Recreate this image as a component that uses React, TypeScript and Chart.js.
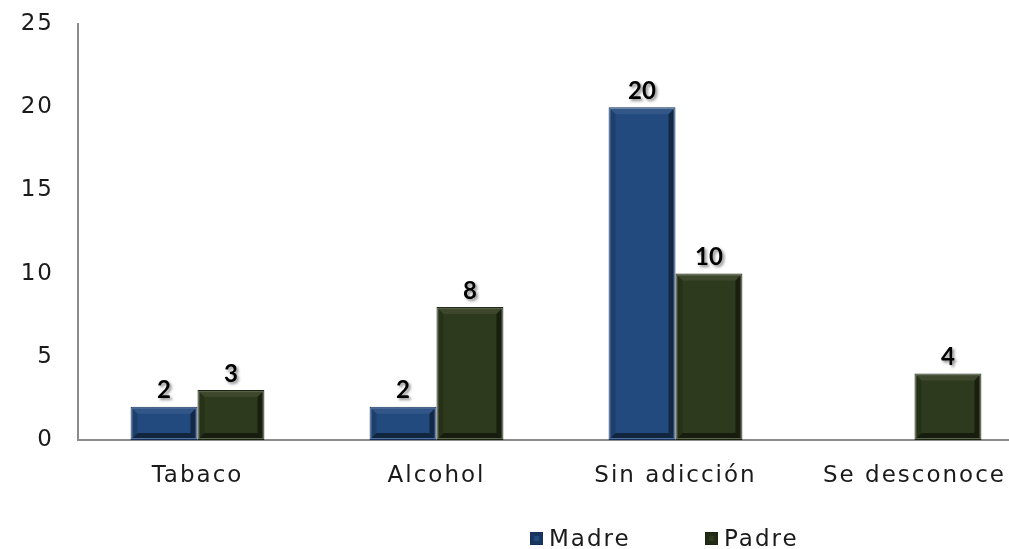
import React, { useEffect, useRef } from "react";
import { Chart, registerables } from "chart.js";

Chart.register(...registerables);

const categories = ["Tabaco", "Alcohol", "Sin adicción", "Se desconoce"];
const madreValues: (number | null)[] = [2, 2, 20, null];
const padreValues: (number | null)[] = [3, 8, 10, 4];
const seriesNames = ["Madre", "Padre"];
const seriesColors = ["#224a7e", "#2e3a1d"];
const seriesBorders = ["#14305a", "#1a2410"];
const yMax = 25;
const yStep = 5;

const FONT = "'DejaVu Sans', 'Open Sans', sans-serif";
const SPACING = "2px";

// Widens axis text slightly for a geometric look
const spacingPlugin = {
  id: "letterSpacing",
  beforeDraw(chart: any) {
    chart.ctx.letterSpacing = SPACING;
  },
  afterDraw(chart: any) {
    chart.ctx.letterSpacing = "0px";
  },
};

// Draws a bevelled frame inside each bar plus a bold shaded value label above it
const bevelPlugin = {
  id: "bevelBars",
  afterDatasetsDraw(chart: any) {
    const ctx = chart.ctx;
    chart.data.datasets.forEach((ds: any, di: number) => {
      const meta = chart.getDatasetMeta(di);
      meta.data.forEach((bar: any, i: number) => {
        const v = ds.data[i];
        if (v === null || v === undefined) return;
        const { x, y, base, width } = bar.getProps(["x", "y", "base", "width"], true);
        const l = x - width / 2;
        const r = x + width / 2;
        const t = y;
        const b = base;
        const h = b - t;
        const inset = Math.min(7, h / 3, width / 3);
        ctx.save();
        ctx.letterSpacing = "0px";
        // light outer rim
        ctx.strokeStyle = "rgba(255,255,255,0.22)";
        ctx.lineWidth = 1;
        ctx.strokeRect(l + 1.5, t + 1.5, width - 3, h - 3);
        // top bevel
        ctx.fillStyle = "rgba(255,255,255,0.07)";
        ctx.beginPath();
        ctx.moveTo(l + 2, t + 2);
        ctx.lineTo(r - 2, t + 2);
        ctx.lineTo(r - inset, t + inset);
        ctx.lineTo(l + inset, t + inset);
        ctx.closePath();
        ctx.fill();
        // left bevel
        ctx.fillStyle = "rgba(0,0,0,0.15)";
        ctx.beginPath();
        ctx.moveTo(l + 2, t + 2);
        ctx.lineTo(l + inset, t + inset);
        ctx.lineTo(l + inset, b - inset);
        ctx.lineTo(l + 2, b - 2);
        ctx.closePath();
        ctx.fill();
        // right bevel
        ctx.fillStyle = "rgba(0,0,0,0.45)";
        ctx.beginPath();
        ctx.moveTo(r - 2, t + 2);
        ctx.lineTo(r - inset, t + inset);
        ctx.lineTo(r - inset, b - inset);
        ctx.lineTo(r - 2, b - 2);
        ctx.closePath();
        ctx.fill();
        // bottom bevel
        ctx.fillStyle = "rgba(0,0,0,0.5)";
        ctx.beginPath();
        ctx.moveTo(l + 2, b - 2);
        ctx.lineTo(l + inset, b - inset);
        ctx.lineTo(r - inset, b - inset);
        ctx.lineTo(r - 2, b - 2);
        ctx.closePath();
        ctx.fill();
        ctx.restore();

        // value label
        ctx.save();
        ctx.letterSpacing = "0px";
        ctx.font = `bold 24px Lato, 'Open Sans', sans-serif`;
        ctx.fillStyle = "#000";
        ctx.textAlign = "center";
        ctx.textBaseline = "bottom";
        ctx.shadowColor = "rgba(0,0,0,0.45)";
        ctx.shadowOffsetX = 2;
        ctx.shadowOffsetY = 2;
        ctx.shadowBlur = 3;
        ctx.fillText(String(v), x, t - 4);
        ctx.restore();
      });
    });
  },
};

export default function App() {
  const canvasRef = useRef<HTMLCanvasElement | null>(null);

  useEffect(() => {
    document.body.style.margin = "0";
    const canvas = canvasRef.current;
    if (!canvas) return;
    const chart = new Chart(canvas, {
      type: "bar",
      data: {
        labels: categories,
        datasets: [
          {
            label: seriesNames[0],
            data: madreValues,
            backgroundColor: seriesColors[0],
            borderColor: seriesBorders[0],
            borderWidth: 1,
            borderSkipped: false,
          },
          {
            label: seriesNames[1],
            data: padreValues,
            backgroundColor: seriesColors[1],
            borderColor: seriesBorders[1],
            borderWidth: 1,
            borderSkipped: false,
          },
        ],
      },
      options: {
        animation: false,
        responsive: false,
        maintainAspectRatio: false,
        datasets: {
          bar: { barPercentage: 1, categoryPercentage: 0.56 },
        },
        layout: { padding: { top: 24, right: 0, bottom: 59, left: 0 } },
        plugins: {
          legend: { display: false },
          tooltip: { enabled: false },
        },
        scales: {
          x: {
            grid: { display: false, drawTicks: false },
            border: { display: true, color: "#8c8c8c", width: 2 },
            ticks: {
              color: "#1a1a1a",
              font: { family: FONT, size: 23 },
              padding: 22,
              maxRotation: 0,
              autoSkip: false,
            },
            afterFit(scale: any) {
              scale.height = 50;
              scale.paddingLeft = 0;
              scale.paddingRight = 0;
            },
          },
          y: {
            min: 0,
            max: yMax,
            grid: { display: false, drawTicks: false },
            border: { display: true, color: "#8c8c8c", width: 2 },
            ticks: {
              stepSize: yStep,
              color: "#1a1a1a",
              font: { family: FONT, size: 23 },
              padding: 24,
            },
            afterFit(scale: any) {
              scale.width = 78;
              scale.paddingTop = 0;
              scale.paddingBottom = 0;
            },
          },
        },
      },
      plugins: [spacingPlugin, bevelPlugin],
    });
    return () => chart.destroy();
  }, []);

  const legendItem = (i: number, left: number) => (
    <div
      key={i}
      style={{
        position: "absolute",
        left,
        top: 524,
        display: "flex",
        alignItems: "center",
        fontFamily: FONT,
        fontSize: 23,
        letterSpacing: SPACING,
        color: "#1a1a1a",
        lineHeight: "28px",
      }}
    >
      <span
        style={{
          display: "inline-block",
          width: 13,
          height: 13,
          background: seriesColors[i],
          border: `1px solid ${seriesBorders[i]}`,
          boxShadow: "inset 0 0 0 3px rgba(0,0,0,0.25)",
          marginRight: 6,
          boxSizing: "border-box",
        }}
      />
      {seriesNames[i]}
    </div>
  );

  // The plot area continues a little past the visible right edge
  return (
    <div style={{ position: "relative", width: 1009, height: 549, background: "#fff", overflow: "hidden" }}>
      <canvas ref={canvasRef} width={1034} height={549} style={{ display: "block" }} />
      {legendItem(0, 530)}
      {legendItem(1, 705)}
    </div>
  );
}
